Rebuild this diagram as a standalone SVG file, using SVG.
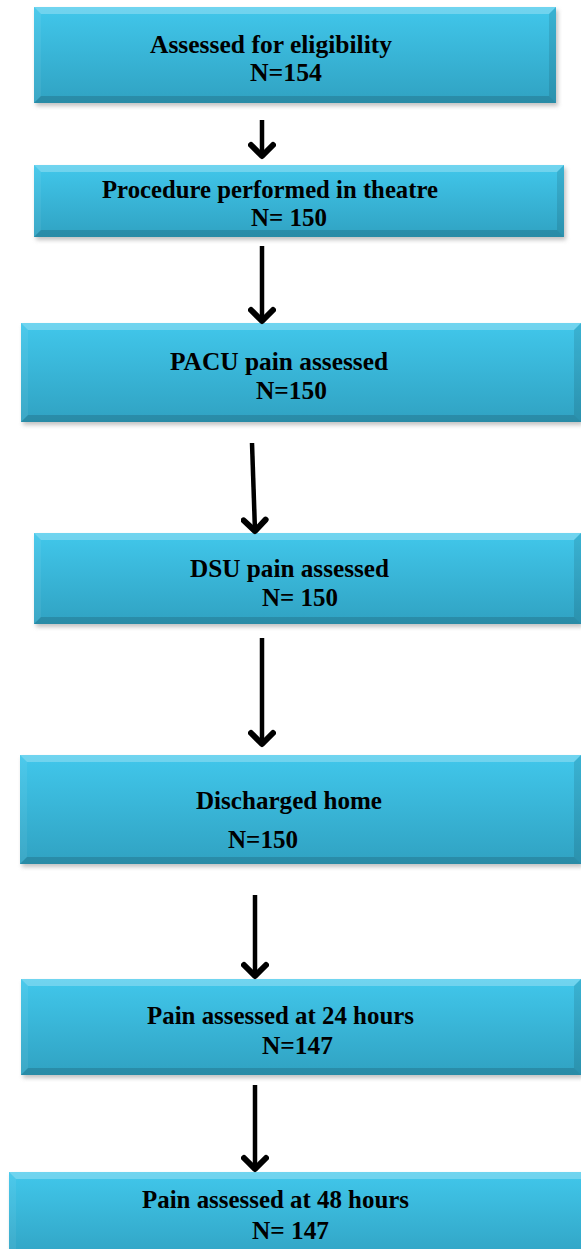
<svg xmlns="http://www.w3.org/2000/svg" width="581" height="1249" viewBox="0 0 581 1249">
<defs>
<linearGradient id="fillg" x1="0" y1="0" x2="0" y2="1">
<stop offset="0" stop-color="#41c7eb"/>
<stop offset="1" stop-color="#30a2c2"/>
</linearGradient>
<filter id="sh" x="-5%" y="-10%" width="110%" height="130%">
<feGaussianBlur stdDeviation="2"/>
</filter>
<marker id="ah" viewBox="-16 -14 20 28" markerWidth="20" markerHeight="28" refX="0" refY="0" orient="auto" markerUnits="userSpaceOnUse">
<path d="M-11,-11 L0,0 L-11,11" fill="none" stroke="#000" stroke-width="6" stroke-linejoin="round" stroke-linecap="round"/>
</marker>
</defs>
<style>
.sh{fill:#9a9a9a;opacity:0.6;filter:url(#sh)}
.bx{fill:url(#fillg)}
.bt{fill:#ffffff;opacity:0.25}
.bl{fill:#ffffff;opacity:0.06}
.br{fill:#000000;opacity:0.1}
.bb{fill:#000000;opacity:0.14}
.t{font-family:"Liberation Serif","Times New Roman",serif;font-weight:bold;font-size:25px;fill:#000}
.c{fill:none;stroke:#000;stroke-width:4.5;marker-end:url(#ah)}
</style>
<rect width="581" height="1249" fill="#fff"/>

<g id="n1">
<rect class="sh" x="36" y="10" width="522" height="96"/>
<rect class="bx" x="34" y="7" width="522" height="96"/>
<polygon class="bt" points="34,7 556,7 549,14 41,14"/>
<polygon class="bl" points="34,7 41,14 41,96 34,103"/>
<polygon class="br" points="556,7 556,103 549,96 549,14"/>
<polygon class="bb" points="34,103 41,96 549,96 556,103"/>
<text class="t" x="150" y="53" textLength="242" lengthAdjust="spacingAndGlyphs">Assessed for eligibility</text>
<text class="t" x="250" y="81" textLength="72" lengthAdjust="spacingAndGlyphs">N=154</text>
</g>

<g id="n2">
<rect class="sh" x="36" y="168" width="530" height="72"/>
<rect class="bx" x="34" y="165" width="530" height="72"/>
<polygon class="bt" points="34,165 564,165 557,172 41,172"/>
<polygon class="bl" points="34,165 41,172 41,230 34,237"/>
<polygon class="br" points="564,165 564,237 557,230 557,172"/>
<polygon class="bb" points="34,237 41,230 557,230 564,237"/>
<text class="t" x="102" y="198" textLength="336" lengthAdjust="spacingAndGlyphs">Procedure performed in theatre</text>
<text class="t" x="251" y="226" textLength="76" lengthAdjust="spacingAndGlyphs">N= 150</text>
</g>

<g id="n3">
<rect class="sh" x="23" y="326" width="560" height="99"/>
<rect class="bx" x="21" y="323" width="560" height="99"/>
<polygon class="bt" points="21,323 581,323 574,330 28,330"/>
<polygon class="bl" points="21,323 28,330 28,415 21,422"/>
<polygon class="br" points="581,323 581,422 574,415 574,330"/>
<polygon class="bb" points="21,422 28,415 574,415 581,422"/>
<text class="t" x="170" y="370" textLength="218" lengthAdjust="spacingAndGlyphs">PACU pain assessed</text>
<text class="t" x="256" y="399" textLength="71" lengthAdjust="spacingAndGlyphs">N=150</text>
</g>

<g id="n4">
<rect class="sh" x="36" y="536" width="547" height="91"/>
<rect class="bx" x="34" y="533" width="547" height="91"/>
<polygon class="bt" points="34,533 581,533 574,540 41,540"/>
<polygon class="bl" points="34,533 41,540 41,617 34,624"/>
<polygon class="br" points="581,533 581,624 574,617 574,540"/>
<polygon class="bb" points="34,624 41,617 574,617 581,624"/>
<text class="t" x="190" y="577" textLength="199" lengthAdjust="spacingAndGlyphs">DSU pain assessed</text>
<text class="t" x="262" y="606" textLength="76" lengthAdjust="spacingAndGlyphs">N= 150</text>
</g>

<g id="n5">
<rect class="sh" x="22" y="758" width="561" height="109"/>
<rect class="bx" x="20" y="755" width="561" height="109"/>
<polygon class="bt" points="20,755 581,755 574,762 27,762"/>
<polygon class="bl" points="20,755 27,762 27,857 20,864"/>
<polygon class="br" points="581,755 581,864 574,857 574,762"/>
<polygon class="bb" points="20,864 27,857 574,857 581,864"/>
<text class="t" x="196" y="809" textLength="186" lengthAdjust="spacingAndGlyphs">Discharged home</text>
<text class="t" x="228" y="848" textLength="70" lengthAdjust="spacingAndGlyphs">N=150</text>
</g>

<g id="n6">
<rect class="sh" x="23" y="982" width="560" height="96"/>
<rect class="bx" x="21" y="979" width="560" height="96"/>
<polygon class="bt" points="21,979 581,979 574,986 28,986"/>
<polygon class="bl" points="21,979 28,986 28,1068 21,1075"/>
<polygon class="br" points="581,979 581,1075 574,1068 574,986"/>
<polygon class="bb" points="21,1075 28,1068 574,1068 581,1075"/>
<text class="t" x="147" y="1024" textLength="267" lengthAdjust="spacingAndGlyphs">Pain assessed at 24 hours</text>
<text class="t" x="262" y="1054" textLength="71" lengthAdjust="spacingAndGlyphs">N=147</text>
</g>

<g id="n7">
<rect class="sh" x="11" y="1175" width="590" height="90"/>
<rect class="bx" x="9" y="1172" width="590" height="90"/>
<polygon class="bt" points="9,1172 599,1172 592,1179 16,1179"/>
<polygon class="bl" points="9,1172 16,1179 16,1255 9,1262"/>
<text class="t" x="142" y="1208" textLength="267" lengthAdjust="spacingAndGlyphs">Pain assessed at 48 hours</text>
<text class="t" x="252" y="1239" textLength="77" lengthAdjust="spacingAndGlyphs">N= 147</text>
</g>

<g id="connectors">
<path class="c" d="M262,120 L262,156"/>
<path class="c" d="M262,246 L262,321"/>
<path class="c" d="M252,443 L255,531"/>
<path class="c" d="M262,638 L262,744"/>
<path class="c" d="M255,895 L255,976"/>
<path class="c" d="M255,1085 L255,1169"/>
</g>
</svg>
